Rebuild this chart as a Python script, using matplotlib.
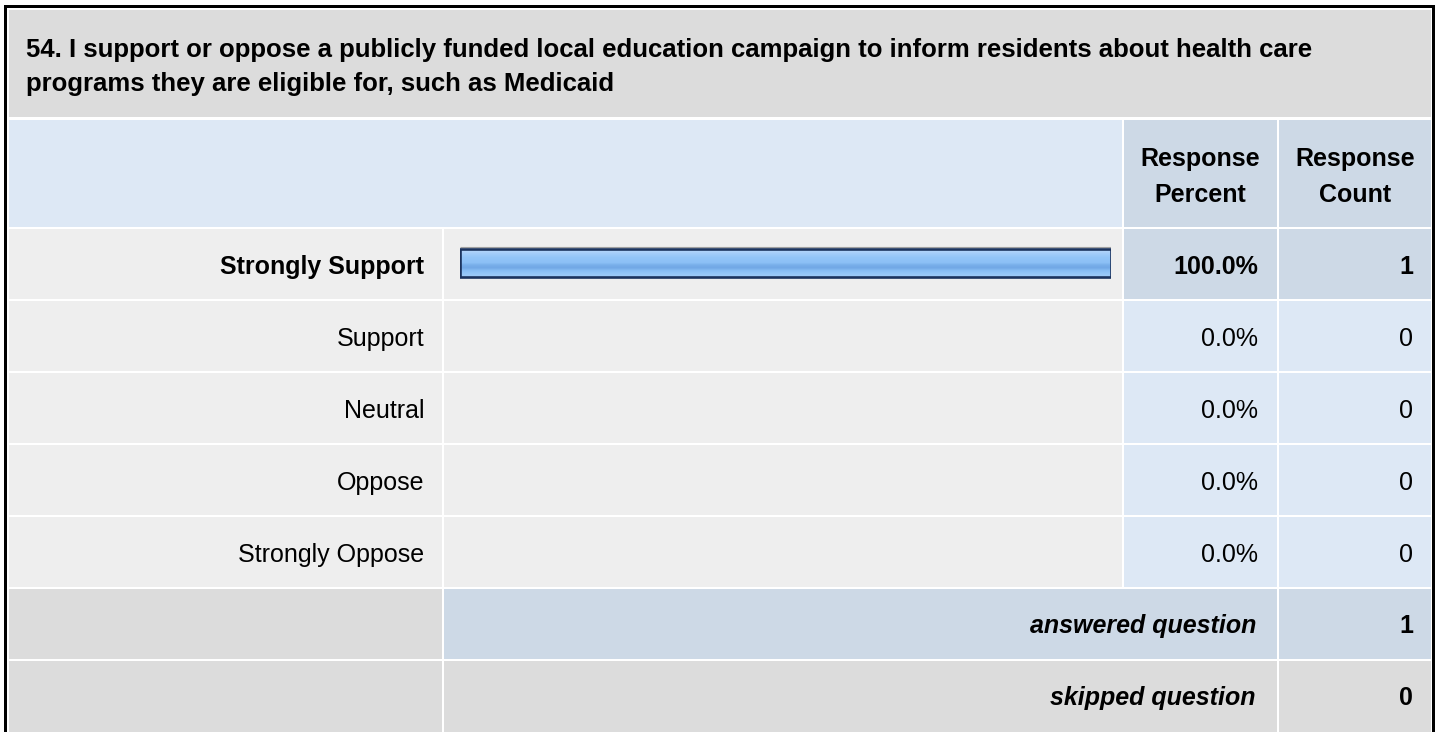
import matplotlib.pyplot as plt
from matplotlib.patches import Rectangle
from matplotlib.colors import to_rgb
import numpy as np

question = [
    "54. I support or oppose a publicly funded local education campaign to inform residents about health care",
    "programs they are eligible for, such as Medicaid",
]
answers = ["Strongly Support", "Support", "Neutral", "Oppose", "Strongly Oppose"]
percents = [100.0, 0.0, 0.0, 0.0, 0.0]
counts = [1, 0, 0, 0, 0]
answered = 1
skipped = 0

# colours
GREY = "#DCDCDC"
ROW = "#EEEEEE"
LIGHTBLUE = "#DDE8F5"
BLUE = "#CDD9E6"
BAR_EDGE = "#1B335E"
BAR_GRAD = ["#B9D9FB", "#ACD1FA", "#9ECAF9", "#93C5F8", "#8FC2F7", "#8CC0F6",
            "#78AEEA", "#72A8E6", "#86BCF3", "#92C5F8", "#9CCAF7"]

plt.rcParams["font.family"] = ["Liberation Sans", "DejaVu Sans"]

W, H = 1437, 732
FS = 18

fig = plt.figure(figsize=(W / 100, H / 100), dpi=100)
ax = fig.add_axes([0, 0, 1, 1])
ax.set_xlim(0, W)
ax.set_ylim(H, 0)
ax.axis("off")


def cell(x0, x1, y0, y1, color):
    ax.add_patch(Rectangle((x0, y0), x1 - x0, y1 - y0, facecolor=color, edgecolor="none"))


# outer frame
cell(4, 1435, 5, H + 5, "black")
cell(7, 1432, 8, H + 5, "white")

# column edges
LAB0, LAB1 = 9, 442
BAR0, BAR1 = 444, 1122
PCT0, PCT1 = 1124, 1277
CNT0, CNT1 = 1279, 1431

# title
cell(LAB0, CNT1, 10, 117, GREY)
ax.text(26, 57, question[0], fontsize=18.5, weight="bold", va="baseline")
ax.text(26, 91, question[1], fontsize=18.5, weight="bold", va="baseline")

# header
cell(LAB0, BAR1, 120, 227, LIGHTBLUE)
cell(PCT0, PCT1, 120, 227, BLUE)
cell(CNT0, CNT1, 120, 227, BLUE)
for x, word in [((PCT0 + PCT1) / 2, "Percent"), ((CNT0 + CNT1) / 2, "Count")]:
    ax.text(x, 166, "Response", fontsize=FS, weight="bold", ha="center", va="baseline")
    ax.text(x, 202, word, fontsize=FS, weight="bold", ha="center", va="baseline")

# answer rows
top0, pitch, rh = 229, 72, 70
best = max(percents)
for i, (name, p, c) in enumerate(zip(answers, percents, counts)):
    top = top0 + pitch * i
    hi = p == best
    cell(LAB0, LAB1, top, top + rh, ROW)
    cell(BAR0, BAR1, top, top + rh, ROW)
    cell(PCT0, PCT1, top, top + rh, BLUE if hi else LIGHTBLUE)
    cell(CNT0, CNT1, top, top + rh, BLUE if hi else LIGHTBLUE)
    w = "bold" if hi else "normal"
    base = top + 45
    ax.text(424, base, name, fontsize=FS, weight=w, ha="right", va="baseline")
    ax.text(1258, base, f"{p:.1f}%", fontsize=FS, weight=w, ha="right", va="baseline")
    ax.text(1413, base, str(c), fontsize=FS, weight=w, ha="right", va="baseline")

# summary rows
top = top0 + pitch * 5
cell(LAB0, LAB1, top, top + rh, GREY)
cell(BAR0, PCT1, top, top + rh, BLUE)
cell(CNT0, CNT1, top, top + rh, BLUE)
ax.text(1256, top + 44, "answered question", fontsize=FS, weight="bold", style="italic",
        ha="right", va="baseline")
ax.text(1413, top + 44, str(answered), fontsize=FS, weight="bold", ha="right", va="baseline")

top = top0 + pitch * 6
cell(LAB0, LAB1, top, H + 5, GREY)
cell(BAR0, PCT1, top, H + 5, GREY)
cell(CNT0, CNT1, top, H + 5, GREY)
ax.text(1256, top + 44, "skipped question", fontsize=FS, weight="bold", style="italic",
        ha="right", va="baseline")
ax.text(1413, top + 44, str(skipped), fontsize=FS, weight="bold", ha="right", va="baseline")

# bars
bx0, bx1 = 460, 1111
by0 = top0 - 2
axb = fig.add_axes([bx0 / W, 1 - (by0 + pitch * 5) / H, (bx1 - bx0) / W, pitch * 5 / H])
axb.set_facecolor("none")
axb.axis("off")
bh = 0.40
grad = np.array([to_rgb(c) for c in BAR_GRAD]).reshape(-1, 1, 3)
for i, p in enumerate(percents):
    if p <= 0:
        continue
    bar = axb.barh(i, p, height=bh, color="none", edgecolor="none")[0]
    im = axb.imshow(grad, extent=(0, p, i + bh / 2, i - bh / 2), aspect="auto",
                    interpolation="bilinear", zorder=2)
    im.set_clip_path(bar)
    # faint grey shadow line above the bar
    axb.plot([0, p], [i - bh / 2 - 0.026] * 2, color="#A0A0A0", lw=0.8, zorder=2,
             solid_capstyle="butt")
    axb.barh(i, p, height=bh, color="none", edgecolor=BAR_EDGE, linewidth=1.9, zorder=3)
axb.set_xlim(0, 100)
axb.set_ylim(len(answers) - 0.5, -0.5)

fig.savefig("out.png", dpi=100)
